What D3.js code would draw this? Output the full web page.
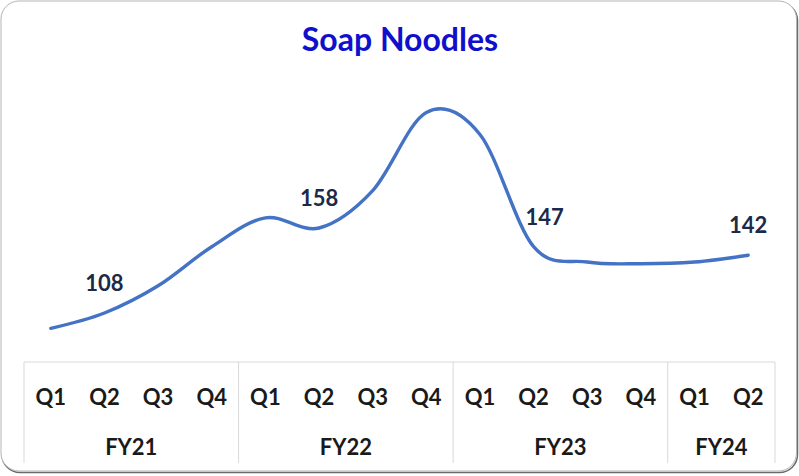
<!DOCTYPE html>
<html><head><meta charset="utf-8">
<script src="https://cdn.jsdelivr.net/npm/d3@7"></script>
<style>html,body{margin:0;padding:0;background:#fff;}svg{display:block;}</style>
</head><body>
<svg id="chart" width="799" height="476"></svg>
<script>
const quarters = ["Q1","Q2","Q3","Q4","Q1","Q2","Q3","Q4","Q1","Q2","Q3","Q4","Q1","Q2"];
const years = ["FY21","FY22","FY23","FY24"];
const yearSpans = [4,4,4,2];
const values = [99,108,124,147,164,158,180,226,213,147,138,137,138,142];
const labelIndex = [1,5,9,13];
const title = "Soap Noodles";

const svg = d3.select("#chart");
const font = "Lato, 'Open Sans', sans-serif";

// frame
svg.append("rect").attr("x",2).attr("y",2.5).attr("width",795.5).attr("height",470)
  .attr("rx",18).attr("fill","none").attr("stroke","#6b6b6b").attr("stroke-width",1.5);
svg.append("rect").attr("x",1).attr("y",1).attr("width",795.5).attr("height",470)
  .attr("rx",18).attr("fill","#fff").attr("stroke","#b5b5b5").attr("stroke-width",1);

const x = d3.scaleBand().domain(d3.range(values.length)).range([24,775]).paddingInner(0).paddingOuter(0);
const y = d3.scaleLinear().domain([80,250]).range([360.6,71.6]);
const cx = i => x(i) + x.bandwidth()/2;

// title
svg.append("text").attr("x",400).attr("y",51).attr("text-anchor","middle")
  .attr("font-family",font).attr("font-weight",700).attr("font-size",32)
  .attr("fill","#1010CC").text(title);

// category axis
const axisTop = 362, axisBottom = 463;
svg.append("line").attr("x1",24).attr("x2",775).attr("y1",axisTop).attr("y2",axisTop)
  .attr("stroke","#d9d9d9").attr("stroke-width",1);
let start = 0;
const bounds = [0];
yearSpans.forEach(s => { start += s; bounds.push(start); });
bounds.forEach(b => {
  const bx = b < values.length ? x(b) : x(values.length-1) + x.bandwidth();
  svg.append("line").attr("x1",bx).attr("x2",bx).attr("y1",axisTop).attr("y2",axisBottom)
    .attr("stroke","#d9d9d9").attr("stroke-width",1);
});
svg.append("g").selectAll("text").data(quarters).join("text")
  .attr("x",(d,i)=>cx(i)).attr("y",405).attr("text-anchor","middle")
  .attr("font-family",font).attr("font-weight",700).attr("font-size",22)
  .attr("fill","#1a1a1a").text(d=>d);
svg.append("g").selectAll("text").data(years).join("text")
  .attr("x",(d,i)=>{
     const a = bounds[i], b = bounds[i+1];
     return (x(a) + x(b-1) + x.bandwidth())/2;
  }).attr("y",455).attr("text-anchor","middle")
  .attr("font-family",font).attr("font-weight",700).attr("font-size",22)
  .attr("fill","#1a1a1a").text(d=>d);

// line
const line = d3.line().x((d,i)=>cx(i)).y(d=>y(d)).curve(d3.curveCardinal.tension(0));
svg.append("path").datum(values).attr("d",line).attr("fill","none")
  .attr("stroke","#4472C4").attr("stroke-width",3.4).attr("stroke-linecap","round");

// labels
svg.append("g").selectAll("text").data(labelIndex).join("text")
  .attr("x",i=>cx(i) + (i===9 ? 11 : 0)).attr("y",i=>y(values[i]) - 22)
  .attr("text-anchor","middle")
  .attr("font-family",font).attr("font-weight",700).attr("font-size",22)
  .attr("fill","#1b2a4a").text(i=>values[i]);
</script>
</body></html>
